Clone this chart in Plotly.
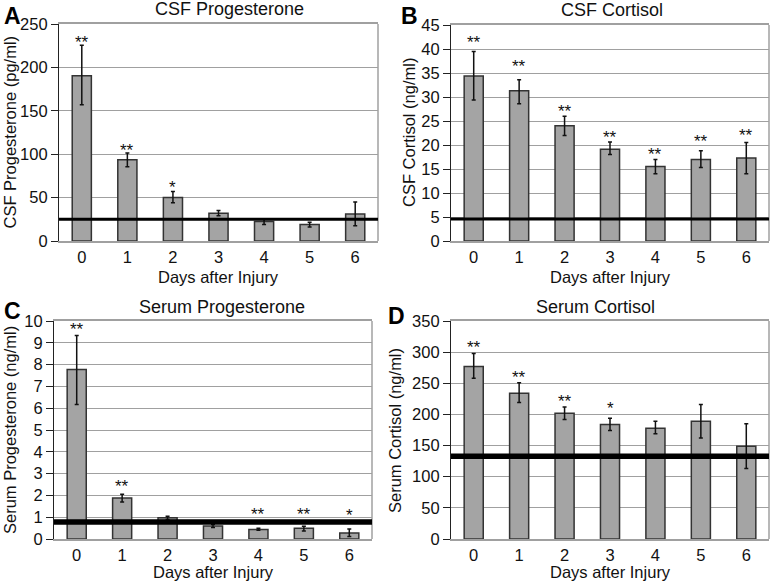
import plotly.graph_objects as go

days = [0, 1, 2, 3, 4, 5, 6]
day_labels = ["0", "1", "2", "3", "4", "5", "6"]

# Panel A: CSF Progesterone (pg/ml)
a_mean = [190.5, 93.5, 50, 32, 22.5, 19, 31]
a_upper = [225.5, 101.5, 57, 35, 25, 21.5, 45]
a_lower = [157, 85.5, 44, 29, 19, 16, 17.5]
a_ref = 25
a_star_days = [0, 1, 2]
a_star_text = ["**", "**", "*"]
a_star_y = [235, 110, 67]

# Panel B: CSF Cortisol (ng/ml)
b_mean = [34.4, 31.3, 24.0, 19.1, 15.5, 17.0, 17.3]
b_upper = [39.5, 33.6, 26.0, 20.6, 17.0, 18.8, 20.5]
b_lower = [29.4, 28.6, 22.0, 18.0, 14.0, 15.3, 14.0]
b_ref = 4.6
b_star_days = [0, 1, 2, 3, 4, 5, 6]
b_star_text = ["**", "**", "**", "**", "**", "**", "**"]
b_star_y = [42.5, 37.5, 28.1, 22.7, 19.1, 21.7, 23.1]

# Panel C: Serum Progesterone (ng/ml)
c_mean = [7.78, 1.88, 0.97, 0.60, 0.44, 0.49, 0.28]
c_upper = [9.34, 2.05, 1.04, 0.67, 0.49, 0.59, 0.46]
c_lower = [6.17, 1.70, 0.89, 0.53, 0.40, 0.37, 0.11]
c_ref = 0.78
c_star_days = [0, 1, 4, 5, 6]
c_star_text = ["**", "**", "**", "**", "*"]
c_star_y = [9.83, 2.64, 1.37, 1.34, 1.31]

# Panel D: Serum Cortisol (ng/ml)
d_mean = [277, 234, 202, 184, 178, 189, 149]
d_upper = [298, 251, 212, 194, 189, 216, 185]
d_lower = [258, 219, 192, 174, 169, 162, 113]
d_ref = 133
d_star_days = [0, 1, 2, 3]
d_star_text = ["**", "**", "**", "*"]
d_star_y = [315, 267, 228, 217]

W, H = 771, 581
FONT = "Liberation Sans, Arial, sans-serif"
BAR_FILL = "#a4a4a4"
GRID = "#a0a0a0"

panels = [
    dict(mean=a_mean, up=a_upper, lo=a_lower, ref=a_ref, ref_w=3, sd=a_star_days, st=a_star_text, sy=a_star_y,
         ymax=250, dtick=50, px=(59, 378), py=(24, 241), title="CSF Progesterone", tx=229, ty=9,
         ytitle="CSF Progesterone (pg/ml)", ytx=9, letter="A", lx=2, ly=1, xt_y=277),
    dict(mean=b_mean, up=b_upper, lo=b_lower, ref=b_ref, ref_w=3, sd=b_star_days, st=b_star_text, sy=b_star_y,
         ymax=45, dtick=5, px=(451, 769), py=(25, 241), title="CSF Cortisol", tx=612, ty=10,
         ytitle="CSF Cortisol (ng/ml)", ytx=409, letter="B", lx=399, ly=1, xt_y=277),
    dict(mean=c_mean, up=c_upper, lo=c_lower, ref=c_ref, ref_w=5.5, sd=c_star_days, st=c_star_text, sy=c_star_y,
         ymax=10, dtick=1, px=(54, 372), py=(321, 539), title="Serum Progesterone", tx=222, ty=307,
         ytitle="Serum Progesterone (ng/ml)", ytx=10, letter="C", lx=2, ly=296, xt_y=572),
    dict(mean=d_mean, up=d_upper, lo=d_lower, ref=d_ref, ref_w=5.5, sd=d_star_days, st=d_star_text, sy=d_star_y,
         ymax=350, dtick=50, px=(451, 769), py=(321, 539), title="Serum Cortisol", tx=595, ty=307,
         ytitle="Serum Cortisol (ng/ml)", ytx=395, letter="D", lx=386, ly=301, xt_y=572),
]

fig = go.Figure()
annotations = []
shapes = []
layout = {}

for i, p in enumerate(panels, start=1):
    xa = "x" if i == 1 else f"x{i}"
    ya = "y" if i == 1 else f"y{i}"
    plus = [u - m for u, m in zip(p["up"], p["mean"])]
    minus = [m - l for m, l in zip(p["mean"], p["lo"])]
    fig.add_trace(go.Bar(
        x=days, y=p["mean"], xaxis=xa, yaxis=ya, width=0.42,
        marker=dict(color=BAR_FILL, line=dict(color="#333333", width=1.5)),
        error_y=dict(type="data", symmetric=False, array=plus, arrayminus=minus,
                     color="#111111", thickness=1.5, width=2),
        showlegend=False, hoverinfo="skip",
    ))
    xdom = [p["px"][0] / W, p["px"][1] / W]
    ydom = [1 - p["py"][1] / H, 1 - p["py"][0] / H]
    layout["xaxis" if i == 1 else f"xaxis{i}"] = dict(
        domain=xdom, anchor=ya, range=[-0.5, 6.5], tickvals=days, ticktext=day_labels,
        showline=True, mirror=True, linecolor=GRID, linewidth=1.5, ticks="", showgrid=False,
        zeroline=False, tickfont=dict(size=16.5, color="#111", family=FONT), fixedrange=True,
        automargin=False,
    )
    layout["yaxis" if i == 1 else f"yaxis{i}"] = dict(
        domain=ydom, anchor=xa, range=[0, p["ymax"]], dtick=p["dtick"], tick0=0,
        showline=True, linecolor="#222", linewidth=1.2, ticks="outside", ticklen=7,
        tickcolor="#222", tickwidth=1.2, showgrid=True, gridcolor=GRID, gridwidth=1.3,
        zeroline=False, tickfont=dict(size=16.5, color="#111", family=FONT), fixedrange=True,
        automargin=False,
    )
    # right border
    shapes.append(dict(type="line", xref=f"{xa} domain", yref=f"{ya} domain",
                       x0=1, x1=1, y0=0, y1=1, line=dict(color=GRID, width=1.5), layer="above"))
    # reference line
    shapes.append(dict(type="line", xref=f"{xa} domain", yref=ya,
                       x0=0, x1=1, y0=p["ref"], y1=p["ref"],
                       line=dict(color="#000", width=p["ref_w"]), layer="above"))
    # stars
    for d, t, yv in zip(p["sd"], p["st"], p["sy"]):
        annotations.append(dict(x=d, y=yv, xref=xa, yref=ya, text=t, showarrow=False,
                                yanchor="middle", yshift=-5,
                                font=dict(size=17, color="#111", family=FONT)))
    # title
    annotations.append(dict(x=p["tx"] / W, y=1 - p["ty"] / H, xref="paper", yref="paper",
                            text=p["title"], showarrow=False, xanchor="center", yanchor="middle",
                            font=dict(size=18, color="#111", family=FONT)))
    # y title
    annotations.append(dict(x=p["ytx"] / W, y=1 - (p["py"][0] + p["py"][1]) / 2 / H,
                            xref="paper", yref="paper", text=p["ytitle"], textangle=-90,
                            showarrow=False, xanchor="center", yanchor="middle",
                            font=dict(size=16.5, color="#111", family=FONT)))
    # x title
    annotations.append(dict(x=(p["px"][0] + p["px"][1]) / 2 / W, y=1 - p["xt_y"] / H,
                            xref="paper", yref="paper", text="Days after Injury",
                            showarrow=False, xanchor="center", yanchor="middle",
                            font=dict(size=16.5, color="#111", family=FONT)))
    # panel letter
    annotations.append(dict(x=p["lx"] / W, y=1 - p["ly"] / H, xref="paper", yref="paper",
                            text="<b>" + p["letter"] + "</b>", showarrow=False,
                            xanchor="left", yanchor="top",
                            font=dict(size=23, color="#000", family=FONT)))

fig.update_layout(
    width=W, height=H, margin=dict(l=0, r=0, t=0, b=0, autoexpand=False),
    paper_bgcolor="white", plot_bgcolor="white",
    font=dict(family=FONT, color="#111"),
    annotations=annotations, shapes=shapes, bargap=0.5,
    **layout,
)

fig.write_html("out.html", config={"responsive": False, "displayModeBar": False},
               post_script="document.body.style.margin='0px';document.body.style.overflow='hidden';")
